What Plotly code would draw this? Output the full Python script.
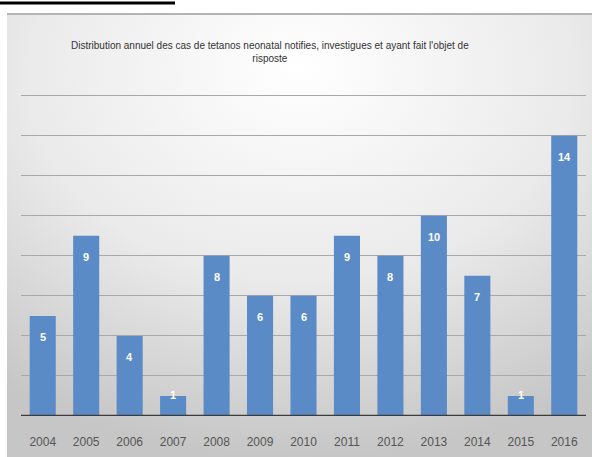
import base64
import plotly.graph_objects as go

# Annual counts of neonatal tetanus cases
years = ["2004", "2005", "2006", "2007", "2008", "2009", "2010",
         "2011", "2012", "2013", "2014", "2015", "2016"]
cases = [5, 9, 4, 1, 8, 6, 6, 9, 8, 10, 7, 1, 14]

title_text = ("Distribution annuel des cas de tetanos neonatal notifies, "
              "investigues et ayant fait l'objet de<br>risposte")

W, H = 592, 457
ML, MR, MT, MB = 21, 6, 94, 41
PW, PH = W - ML - MR, H - MT - MB
FONT = "Liberation Sans, Arial, sans-serif"


def px_x(x):
    return (x - ML) / PW


def px_y(y):
    return 1 - (y - MT) / PH


# soft radial backdrop of the chart frame
svg = f"""<svg xmlns='http://www.w3.org/2000/svg' width='585' height='444' viewBox='0 0 585 444'>
<defs><radialGradient id='g' cx='50%' cy='15%' r='85%' fx='50%' fy='12%'>
<stop offset='0%' stop-color='#ffffff'/><stop offset='55%' stop-color='#eaeaea'/>
<stop offset='100%' stop-color='#c6c6c6'/></radialGradient></defs>
<rect x='0' y='0' width='585' height='444' fill='url(#g)'/>
<rect x='0' y='0' width='585' height='2' fill='#b4b4b4'/>
</svg>"""
src = "data:image/svg+xml;base64," + base64.b64encode(svg.encode()).decode()

fig = go.Figure()
fig.add_trace(go.Bar(
    x=years, y=cases,
    marker=dict(color="#5b8bc7", line=dict(width=0)),
    hoverinfo="skip",
))

# value labels just inside the top of each bar (category index on the x axis)
annotations = []
for i, v in enumerate(cases):
    annotations.append(dict(
        x=i, y=v, xref="x", yref="y", text=f"<b>{v}</b>", showarrow=False,
        yshift=-21 if v > 1 else 1,
        font=dict(family=FONT, size=11, color="white"),
    ))

annotations.append(dict(
    x=px_x(270), y=px_y(52), xref="paper", yref="paper", text=title_text,
    showarrow=False, align="center", xanchor="center", yanchor="middle",
    font=dict(family=FONT, size=10, color="#333333"),
))

fig.update_layout(
    width=W, height=H,
    margin=dict(l=ML, r=MR, t=MT, b=MB, pad=0),
    paper_bgcolor="white", plot_bgcolor="rgba(0,0,0,0)",
    showlegend=False, bargap=0.4,
    annotations=annotations,
    images=[dict(source=src, xref="paper", yref="paper",
                 x=px_x(7), y=px_y(13), sizex=585 / PW, sizey=444 / PH,
                 xanchor="left", yanchor="top", sizing="stretch", layer="below")],
    shapes=[
        dict(type="line", xref="paper", yref="y", x0=0, x1=1, y0=0, y1=0,
             line=dict(color="#3c3c3c", width=2.5), layer="above"),
        dict(type="line", xref="paper", yref="paper",
             x0=px_x(0), x1=px_x(175), y0=px_y(3), y1=px_y(3),
             line=dict(color="black", width=3)),
    ],
    xaxis=dict(type="category", range=[-0.5, len(years) - 0.5],
               showgrid=False, showline=False, ticks="", ticklen=0,
               ticklabelstandoff=17,
               tickfont=dict(family=FONT, size=12, color="#555555")),
    yaxis=dict(range=[0, 16.08], dtick=2, showgrid=True, gridcolor="#a8a8a8",
               gridwidth=1, zeroline=False, showticklabels=False, showline=False),
)

fig.write_html("out.html")
